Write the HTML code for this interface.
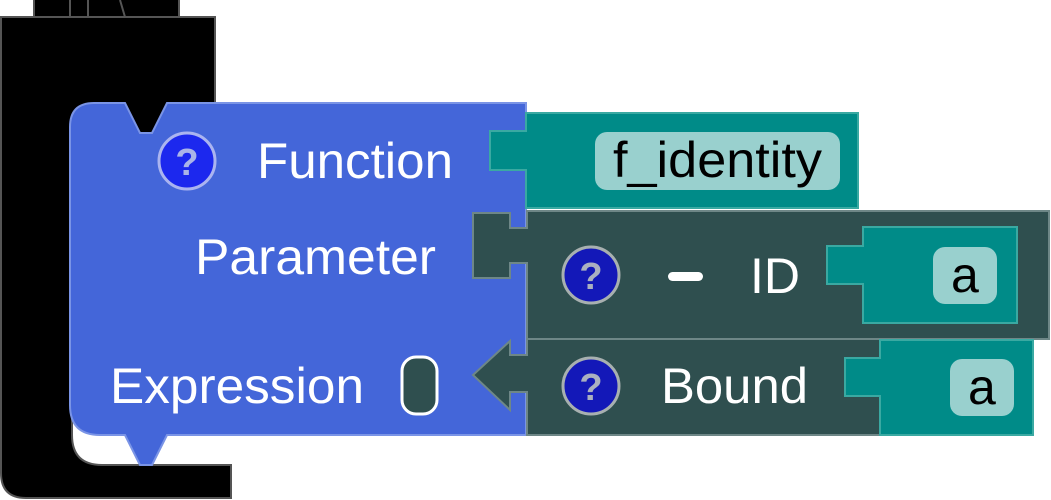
<!DOCTYPE html>
<html><head><meta charset="utf-8"><style>
html,body{margin:0;padding:0;background:#fff;width:1051px;height:500px;overflow:hidden}
svg{display:block}
text{font-family:"Liberation Sans",sans-serif;font-size:50px}
</style></head><body>
<svg width="1051" height="500" viewBox="0 0 1051 500" xmlns="http://www.w3.org/2000/svg">
<!-- black block -->
<rect x="34" y="-5" width="145" height="22" fill="#000" stroke="#555" stroke-width="2"/>
<path d="M52 0 L52 -2 M70 0 V17 M88 0 V17 M120 0 L125 17" stroke="#555" stroke-width="2" fill="none"/>
<path d="M1 17 H215 V150 H72 V435 Q72 465 102 465 H231 V498 H26 Q1 498 1 473 Z" fill="#000" stroke="#555" stroke-width="2"/>
<!-- blue block -->
<path d="M70 127 Q70 103 94 103 H125 L140 133 H152 L167 103 H526 V435 H167 L152 465 H140 L125 435 H100 Q70 435 70 405 Z" fill="#4466d9" stroke="#7a94e6" stroke-width="2"/>
<!-- function teal block -->
<path d="M526 113 H858 V208 H526 V170 H490 V131 H526 Z" fill="#008b88" stroke="#3aa9a2" stroke-width="2"/>
<rect x="595" y="132" width="245" height="58" rx="12" fill="#99d0ce"/>
<text x="613" y="177" fill="#000" textLength="209" lengthAdjust="spacingAndGlyphs">f_identity</text>
<!-- parameter block -->
<path d="M527 211 H1049 V339 H527 V263 H510 V278 H473 V213 H510 V228 H527 Z" fill="#2f4f4f" stroke="#6e8787" stroke-width="2"/>
<path d="M863 227 H1017 V323 H863 V284 H827 V246 H863 Z" fill="#008b88" stroke="#3aa9a2" stroke-width="2"/>
<rect x="933" y="247" width="64" height="57" rx="12" fill="#99d0ce"/>
<text x="951" y="292" fill="#000">a</text>
<!-- bound block -->
<path d="M527 339 H880 V435 H527 V392 H510 V410 L473 375 L510 341 V355 H527 Z" fill="#2f4f4f" stroke="#6e8787" stroke-width="2"/>
<path d="M880 340 H1033 V435 H880 V396 H845 V358 H880 Z" fill="#008b88" stroke="#3aa9a2" stroke-width="2"/>
<rect x="950" y="359" width="64" height="57" rx="12" fill="#99d0ce"/>
<text x="968" y="404" fill="#000">a</text>
<!-- labels -->
<circle cx="187" cy="161" r="28" fill="#1c28ee" stroke="#aab4f0" stroke-width="3"/>
<text x="187" y="175" fill="#aab4e8" text-anchor="middle" style="font-size:38px;font-weight:bold">?</text>
<text x="257" y="178" fill="#fff" textLength="196" lengthAdjust="spacingAndGlyphs">Function</text>
<text x="195" y="274" fill="#fff" textLength="241" lengthAdjust="spacingAndGlyphs">Parameter</text>
<text x="110" y="403" fill="#fff" textLength="254" lengthAdjust="spacingAndGlyphs">Expression</text>
<rect x="402" y="357" width="35" height="57" rx="14" fill="#2f4f4f" stroke="#fff" stroke-width="3"/>
<circle cx="591" cy="275" r="28" fill="#1318b8" stroke="#a8b0b0" stroke-width="3"/>
<text x="591" y="289" fill="#aab0c0" text-anchor="middle" style="font-size:38px;font-weight:bold">?</text>
<rect x="668" y="272" width="35" height="9" rx="4.5" fill="#fff"/>
<text x="750" y="293" fill="#fff" textLength="50" lengthAdjust="spacingAndGlyphs">ID</text>
<circle cx="591" cy="386" r="28" fill="#1318b8" stroke="#a8b0b0" stroke-width="3"/>
<text x="591" y="400" fill="#aab0c0" text-anchor="middle" style="font-size:38px;font-weight:bold">?</text>
<text x="661" y="403" fill="#fff" textLength="147" lengthAdjust="spacingAndGlyphs">Bound</text>
</svg>
</body></html>
